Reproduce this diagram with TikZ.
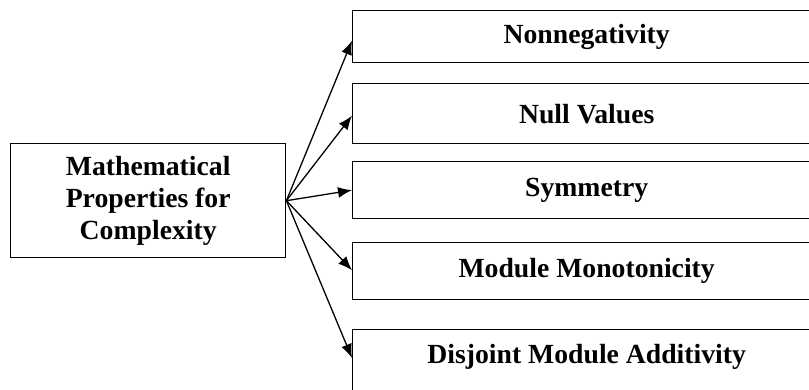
\documentclass[tikz,border=0pt]{standalone}
\usepackage{fontspec}
\setmainfont{Liberation Serif}
\usetikzlibrary{positioning, arrows.meta}
\tikzset{
	box/.style = {draw, line width=1.4pt, anchor=north west, align=center, inner sep=0pt, font=\fontsize{27.7}{32}\selectfont\bfseries},
	propbox/.style = {box, minimum width=468pt},
	line/.style = {draw, line width=1.3pt, -{Latex[length=14pt,width=11pt]}}
}

\begin{document}
\begin{tikzpicture}[x=1pt,y=-1pt]
\useasboundingbox (0,0) rectangle (809,390);
\clip (0,0) rectangle (809,390);
\node[box, minimum width=275pt, minimum height=114pt] (maths) at (10,143) {Mathematical\\Properties for\\Complexity};
\node[propbox, minimum height=52pt] (nonneg) at (352,10) {Nonnegativity};
\node[propbox, minimum height=60pt] (nullval) at (352,83) {Null Values};
\node[propbox, minimum height=57pt] (symm) at (352,161) {Symmetry};
\node[propbox, minimum height=57pt] (monot) at (352,242) {Module Monotonicity};
\node[propbox, text height=34pt, text depth=80pt] (addit) at (352,329) {Disjoint Module Additivity};
\draw[line] (maths.east) -- ([yshift=-4pt]nonneg.west);
\draw[line] (maths.east) -- ([yshift=-2pt]nullval.west);
\draw[line] (maths.east) -- (symm.west);
\draw[line] (maths.east) -- ([yshift=1pt]monot.west);
\draw[line] (maths.east) -- ([yshift=-29pt]addit.north west);
\end{tikzpicture}
\end{document}
